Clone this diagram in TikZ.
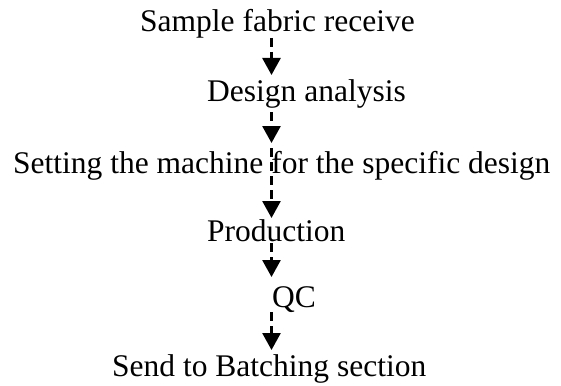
\documentclass[tikz,border=0pt]{standalone}
\usepackage{fontspec}
\setmainfont{Liberation Serif}
\usetikzlibrary{arrows.meta}
\begin{document}
\begin{tikzpicture}[x=1pt,y=-1pt,
  lbl/.style={anchor=base west,inner sep=0pt,font=\fontsize{31.5}{36}\selectfont},
  arr/.style={line width=2.7pt,dash pattern=on 9pt off 5pt,-{Triangle[width=18pt,length=17pt]}}]
\useasboundingbox (0,0) rectangle (561,385);
\coordinate (ax) at (271.5,0);
\node[lbl] (a) at (140,32) {Sample fabric receive};
\node[lbl] (b) at (207,101) {Design analysis};
\node[lbl] (c) at (13,173) {Setting the machine for the specific design};
\node[lbl] (d) at (207,241) {Production};
\node[lbl] (e) at (272,307) {QC};
\node[lbl] (f) at (112,376) {Send to Batching section};
\draw[arr] ([yshift=-6pt]a.base -| ax) -- ([yshift=26pt]b.base -| ax);
\draw[arr] ([yshift=-11pt]b.base -| ax) -- ([yshift=30pt]c.base -| ax);
\draw[arr] ([yshift=25pt]c.base -| ax) -- ([yshift=23pt]d.base -| ax);
\draw[arr] ([yshift=-2pt]d.base -| ax) -- ([yshift=30pt]e.base -| ax);
\draw[arr] ([yshift=-5pt]e.base -| ax) -- ([yshift=26pt]f.base -| ax);
\end{tikzpicture}
\end{document}
